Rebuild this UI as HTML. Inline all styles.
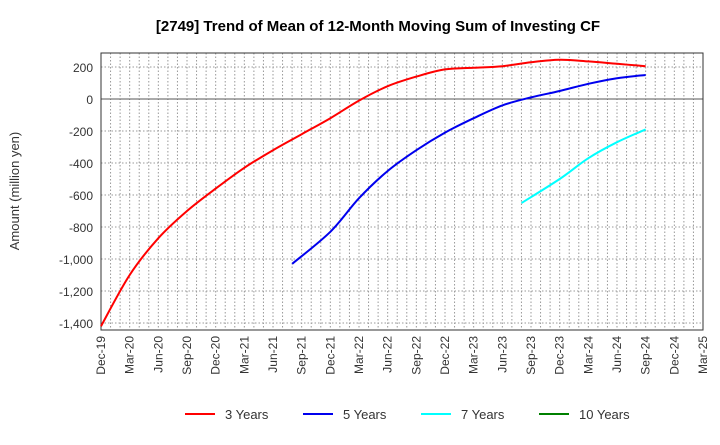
<!DOCTYPE html>
<html><head><meta charset="utf-8"><style>
body{margin:0;background:#fff;font-family:"Liberation Sans",Arial,sans-serif}
</style></head><body>
<svg width="720" height="440" xmlns="http://www.w3.org/2000/svg">
<text x="378" y="31" text-anchor="middle" font-size="15" font-weight="bold">[2749]  Trend of Mean of 12-Month Moving Sum of Investing CF</text>
<text transform="translate(19,191) rotate(-90)" text-anchor="middle" font-size="13" fill="#333">Amount (million yen)</text>
<g id="grid"></g><g id="axes"></g><g id="series"></g><g id="legend"></g>
</svg>
<script>
const xLabels=["Dec-19","Mar-20","Jun-20","Sep-20","Dec-20","Mar-21","Jun-21","Sep-21","Dec-21","Mar-22","Jun-22","Sep-22","Dec-22","Mar-23","Jun-23","Sep-23","Dec-23","Mar-24","Jun-24","Sep-24","Dec-24","Mar-25"];
const yTicks=[200,0,-200,-400,-600,-800,-1000,-1200,-1400];
const yTickLabels=["200","0","-200","-400","-600","-800","-1,000","-1,200","-1,400"];
const s3=[-1420,-1100,-870,-700,-560,-430,-320,-220,-120,-10,80,140,185,195,205,230,245,235,220,205];
const s3x=[0,1,2,3,4,5,6,7,8,9,10,11,12,13,14,15,16,17,18,19];
const s5=[-1030,-830,-620,-450,-320,-210,-120,-40,10,50,95,130,150];
const s5x=[6.67,8,9,10,11,12,13,14,15,16,17,18,19];
const s7=[-650,-500,-370,-270,-190];
const s7x=[14.67,16,17,18,19];
const seriesNames=["3 Years","5 Years","7 Years","10 Years"];
const seriesColors=["#ff0000","#0000ee","#00ffff","#008000"];
const NS="http://www.w3.org/2000/svg";
const L=101,R=703,T=53,B=330;
const X=i=>L+i*(R-L)/21;
const Y=v=>99-v*32/200;
function mk(t,a,p){const e=document.createElementNS(NS,t);for(const k in a)e.setAttribute(k,a[k]);p.appendChild(e);return e;}
const g=document.getElementById('grid'),ax=document.getElementById('axes'),sg=document.getElementById('series'),lg=document.getElementById('legend');
for(let m=1;m<63;m++){const x=L+m*(R-L)/63;
const l=mk('line',{x1:x,x2:x,y1:T,y2:B,stroke:'#999','stroke-dasharray':'1.5,2','stroke-width':1},g);

}
yTicks.forEach((v,i)=>{const y=Y(v);
const l=mk('line',{x1:L,x2:R,y1:y,y2:y,stroke:v===0?'#555':'#999','stroke-dasharray':v===0?'':'1.5,2','stroke-width':1},g);


const t=mk('text',{x:L-8,y:y+5,'text-anchor':'end','font-size':12,fill:'#333'},ax);t.textContent=yTickLabels[i];

});
const fr=mk('rect',{x:L,y:T,width:R-L,height:B-T,fill:'none',stroke:'#333'},ax);


xLabels.forEach((s,i)=>{const x=X(i);
const t=mk('text',{transform:`translate(${x+4},${B+6}) rotate(-90)`,'text-anchor':'end','font-size':12,fill:'#333'},ax);t.textContent=s;

});
function path(vals,xs){const p=vals.map((v,i)=>[X(xs[i]),Y(v)]);let d=`M${p[0][0]},${p[0][1]}`;
for(let i=0;i<p.length-1;i++){const p0=p[Math.max(0,i-1)],p1=p[i],p2=p[i+1],p3=p[Math.min(p.length-1,i+2)];
d+=` C${p1[0]+(p2[0]-p0[0])/6},${p1[1]+(p2[1]-p0[1])/6} ${p2[0]-(p3[0]-p1[0])/6},${p2[1]-(p3[1]-p1[1])/6} ${p2[0]},${p2[1]}`;}return d;}
[[s3,s3x,'series-3-years'],[s5,s5x,'series-5-years'],[s7,s7x,'series-7-years']].forEach((s,k)=>{
const e=mk('path',{d:path(s[0],s[1]),fill:'none',stroke:seriesColors[k],'stroke-width':2},sg);

});
seriesNames.forEach((n,i)=>{const x=185+i*118;
const gi=mk('g',{},lg);


mk('line',{x1:x,x2:x+30,y1:414,y2:414,stroke:seriesColors[i],'stroke-width':2},gi);
const t=mk('text',{x:x+40,y:419,'font-size':13,fill:'#333'},gi);t.textContent=n;});
</script>
</body></html>
